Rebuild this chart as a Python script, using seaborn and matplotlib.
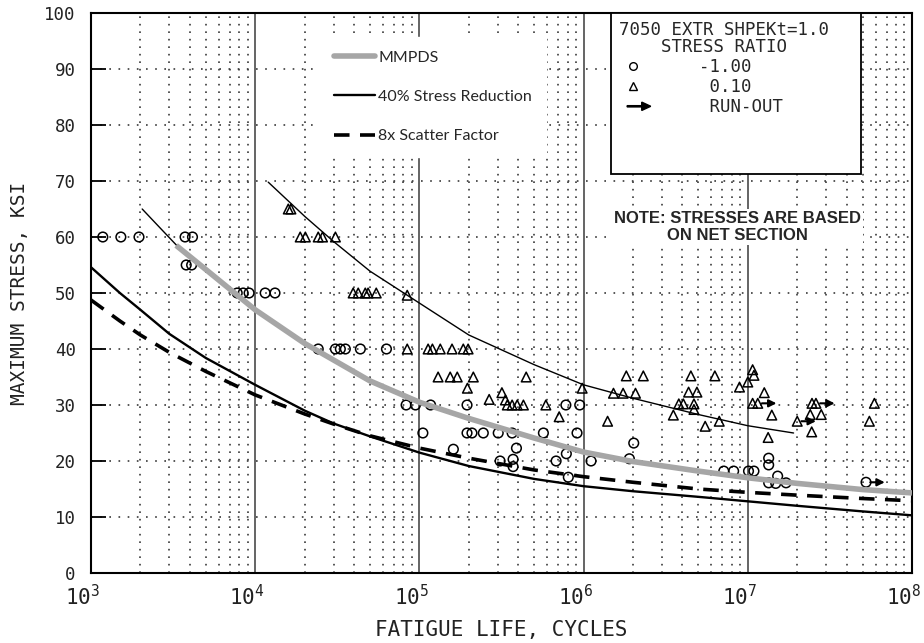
import numpy as np
import pandas as pd
import matplotlib
matplotlib.use("Agg")
import matplotlib.pyplot as plt
import seaborn as sns
from matplotlib.lines import Line2D
from matplotlib.patches import Rectangle, FancyArrow
from matplotlib.legend_handler import HandlerPatch
from matplotlib.ticker import FixedLocator, LogLocator, NullFormatter
from matplotlib.transforms import ScaledTranslation

# ---------------- data ----------------
# R = -1.00 test points (open circles)
circle_N = [1180, 1520, 1960, 3740, 4150,
            3800, 4100,
            7770, 8450, 9180, 11500, 13200,
            24200, 30800, 33000, 35400, 43700, 63000,
            83000, 94600, 117000, 195000, 780000, 947000,
            105000, 195000, 209000, 245000, 302000, 367000, 569000, 912000,
            161000, 390000,
            310000, 372000, 372000, 680000, 785000, 807000, 1.11e6,
            1.9e6, 2.02e6,
            7.14e6, 8.2e6, 1.01e7, 1.09e7,
            1.34e7, 1.34e7, 1.52e7, 1.34e7, 1.48e7, 1.71e7]
circle_S = [60, 60, 60, 60, 60,
            55, 55,
            50, 50, 50, 50, 50,
            40, 40, 40, 40, 40, 40,
            30, 30, 30, 30, 30, 30,
            25, 25, 25, 25, 25, 25, 25, 25,
            22.1, 22.3,
            20, 20.3, 19, 20, 21.3, 17.1, 20,
            20.4, 23.2,
            18.2, 18.2, 18.2, 18.2,
            20.5, 19.3, 17.3, 16.1, 16.0, 16.1]

# R = 0.10 test points (open triangles)
tri_N = [15900, 16500,
         18800, 20200, 24200, 25700, 30800,
         39500, 42400, 46800, 48700, 54600, 84300,
         84300, 113000, 120000, 134000, 158000, 185000, 198000,
         130000, 154000, 170000, 213000, 447000,
         196000, 266000, 318000, 334000,
         343000, 367000, 394000, 430000, 589000,
         710000, 980000,
         1.82e6, 2.31e6, 1.52e6, 1.74e6, 2.07e6, 1.4e6,
         3.52e6, 3.8e6, 4.05e6, 4.7e6, 4.7e6, 4.36e6, 4.9e6, 4.5e6, 6.3e6,
         5.5e6, 6.7e6, 8.9e6,
         1.07e7, 1.09e7, 1.0e7, 1.26e7, 1.07e7, 1.4e7, 1.33e7,
         2.45e7, 2.4e7, 2.8e7, 2.46e7, 5.9e7, 5.5e7]
tri_S = [65, 65,
         60, 60, 60, 60, 60,
         50, 50, 50, 50, 50, 49.6,
         40, 40, 40, 40, 40, 40, 40,
         35, 35, 35, 35, 35,
         33, 31, 32.2, 30.9,
         30, 30, 30, 30, 30,
         27.9, 33,
         35.2, 35.2, 32.1, 32.1, 32.1, 27.1,
         28.2, 30.2, 30.2, 30.2, 29.2, 32.3, 32.3, 35.2, 35.2,
         26.2, 27.1, 33.2,
         36.3, 35.3, 34.1, 32.2, 30.3, 28.2, 24.2,
         25.2, 28.3, 28.3, 30.3, 30.3, 27.1]

# run-out points (drawn with an arrow)
runout_circle_N = [5.25e7]
runout_circle_S = [16.2]
runout_tri_N = [1.15e7, 2.0e7, 2.6e7]
runout_tri_S = [30.3, 27.1, 30.3]

# curves
mmpds_N = [3.3e3, 5e3, 1e4, 2e4, 5e4, 1e5, 2e5, 5e5, 1e6, 2e6, 5e6, 1e7, 2e7, 5e7, 1e8]
mmpds_S = [58.5, 54.2, 47.0, 41.0, 34.3, 30.5, 27.6, 24.1, 21.6, 19.9, 18.2, 17.0, 16.0, 14.9, 14.3]

reduc_N = [1e3, 1.5e3, 2e3, 3e3, 5e3, 1e4, 2e4, 3e4, 5e4, 1e5, 2e5, 5e5, 1e6, 2e6, 5e6, 1e7, 2e7, 5e7, 1e8]
reduc_S = [54.6, 50.0, 47.0, 42.7, 38.4, 33.6, 29.0, 26.7, 24.4, 21.5, 19.1, 16.8, 15.5, 14.6, 13.6, 12.8, 12.0, 11.0, 10.3]

scatter_N = [1e3, 1.5e3, 2e3, 3e3, 5e3, 1e4, 2e4, 3e4, 5e4, 1e5, 2e5, 5e5, 1e6, 2e6, 5e6, 1e7, 2e7, 5e7, 1e8]
scatter_S = [48.75, 45.0, 42.5, 39.4, 36.0, 31.8, 28.4, 26.6, 24.5, 22.3, 20.5, 18.4, 17.2, 16.2, 15.0, 14.4, 13.9, 13.3, 12.9]

fitA_N = [2.05e3, 2.6e3, 3.4e3]            # R=-1 original fit (visible part)
fitA_S = [65.0, 61.8, 58.2]
fitB_N = [1.2e4, 2e4, 3e4, 5e4, 1e5, 2e5, 5e5, 1e6, 2e6, 5e6, 1e7, 1.9e7]   # R=0.1 fit
fitB_S = [69.8, 63.7, 59.2, 53.9, 48.2, 42.5, 37.2, 33.6, 31.2, 28.3, 26.3, 25.0]

x_ticks = [1e3, 1e4, 1e5, 1e6, 1e7, 1e8]
x_tick_labels = [r"$10^{3}$", r"$10^{4}$", r"$10^{5}$", r"$10^{6}$", r"$10^{7}$", r"$10^{8}$"]
y_ticks = [0, 10, 20, 30, 40, 50, 60, 70, 80, 90, 100]
y_tick_labels = ["0", "10", "20", "30", "40", "50", "60", "70", "80", "90", "100"]

# ---------------- style ----------------
sns.set_theme(style="white")
plt.rcParams["font.family"] = ["DejaVu Sans Mono"]
plt.rcParams["mathtext.fontset"] = "custom"
plt.rcParams["mathtext.rm"] = "DejaVu Sans Mono"
plt.rcParams["mathtext.it"] = "DejaVu Sans Mono"

fig = plt.figure(figsize=(9.24, 6.43), dpi=100)
ax = fig.add_axes([91 / 924, 1 - 573 / 643, (912 - 91) / 924, (573 - 13) / 643])
ax.set_xscale("log")
ax.set_xlim(1e3, 1e8)
ax.set_ylim(0, 100)

ax.xaxis.set_major_locator(FixedLocator(x_ticks))
ax.xaxis.set_minor_locator(LogLocator(base=10, subs=range(2, 10)))
ax.xaxis.set_minor_formatter(NullFormatter())
ax.set_xticklabels(x_tick_labels, fontsize=15, color="#222222")
ax.yaxis.set_major_locator(FixedLocator(y_ticks))
ax.set_yticklabels(y_tick_labels, fontsize=12.5, color="#222222")

ax.set_axisbelow(True)
ax.grid(which="major", axis="x", color="#3a3a3a", lw=1.1, ls="-")
ax.grid(which="minor", axis="x", color="#3a3a3a", lw=1.2, ls=(0, (1, 3.5)))
ax.grid(which="major", axis="y", color="#3a3a3a", lw=1.2, ls=(0, (1, 4.5)))
ax.tick_params(axis="x", which="both", length=0, pad=8, bottom=True)
ax.tick_params(axis="y", which="major", direction="in", length=11, width=1.3,
               pad=11, left=True, right=False, color="black")
for sp in ax.spines.values():
    sp.set_color("black")
    sp.set_linewidth(1.5)

for lbl in ax.get_xticklabels():
    lbl.set_transform(lbl.get_transform() + ScaledTranslation(-6 / 72, 0, fig.dpi_scale_trans))

# ---------------- curves ----------------
sns.lineplot(x=fitA_N, y=fitA_S, ax=ax, color="black", lw=1.0, zorder=2)
sns.lineplot(x=fitB_N, y=fitB_S, ax=ax, color="black", lw=1.0, zorder=2)

# ---------------- points ----------------
pts = pd.DataFrame({
    "cycles": circle_N + runout_circle_N + tri_N + runout_tri_N,
    "stress": circle_S + runout_circle_S + tri_S + runout_tri_S,
    "ratio": ["-1.00"] * (len(circle_N) + len(runout_circle_N))
             + ["0.10"] * (len(tri_N) + len(runout_tri_N)),
})
sns.scatterplot(data=pts, x="cycles", y="stress", style="ratio",
                markers={"-1.00": "o", "0.10": "^"}, s=48, color="black",
                facecolor="none", edgecolor="black", linewidth=1.1,
                legend=False, ax=ax, zorder=3)

for n, s in zip(runout_circle_N + runout_tri_N, runout_circle_S + runout_tri_S):
    ax.annotate("", xy=(n * 1.3, s), xytext=(n, s),
                arrowprops=dict(arrowstyle="-|>", color="black", lw=1.5,
                                shrinkA=3, shrinkB=0, mutation_scale=11),
                zorder=3)

sns.lineplot(x=reduc_N, y=reduc_S, ax=ax, color="black", lw=1.7, zorder=4)
sns.lineplot(x=scatter_N, y=scatter_S, ax=ax, color="black", lw=2.6, zorder=4,
             dashes=False, linestyle=(0, (4.3, 2.9)))
sns.lineplot(x=mmpds_N, y=mmpds_S, ax=ax, color="#a6a6a6", lw=4.0, zorder=4,
             solid_capstyle="butt")

ax.set_xlabel("FATIGUE LIFE, CYCLES", fontsize=15, va="center", color="#222222")
ax.xaxis.set_label_coords(0.5, (573 - 630) / 560)
ax.set_ylabel("MAXIMUM STRESS, KSI", fontsize=14, va="center", color="#222222")
ax.yaxis.set_label_coords((20 - 91) / 821, 0.5)

# ---------------- curve legend (top-left, white box) ----------------
h_curves = [Line2D([], [], color="#a6a6a6", lw=4.0),
            Line2D([], [], color="black", lw=1.7),
            Line2D([], [], color="black", lw=2.6, ls=(0, (4.3, 2.9)))]
leg1 = ax.legend(h_curves, ["MMPDS", "40% Stress Reduction", "8x Scatter Factor"],
                 loc="upper left", bbox_to_anchor=((320 - 91) / 821, (573 - 37) / 560),
                 borderaxespad=0, borderpad=0.85, handlelength=2.6, handletextpad=0.2,
                 labelspacing=1.57, frameon=True, fancybox=False, framealpha=1,
                 facecolor="white", edgecolor="white",
                 prop=dict(family="Lato", size=11.5))
leg1.set_zorder(6)
ax.add_artist(leg1)

# ---------------- data legend (top-right, framed box) ----------------
box = Rectangle(((611 - 91) / 821, (573 - 174) / 560), (861 - 611) / 821,
                1 - (573 - 174) / 560, transform=ax.transAxes,
                facecolor="white", edgecolor="black", lw=1.3, zorder=5)
ax.add_patch(box)


def make_arrow(legend, orig_handle, xdescent, ydescent, width, height, fontsize):
    return FancyArrow(width * 0.3, height / 2, width * 0.85, 0, width=0.9,
                      head_width=6.0, head_length=6.5,
                      length_includes_head=True, facecolor="black",
                      edgecolor="black")


runout_handle = FancyArrow(0, 0, 1, 0, facecolor="black", edgecolor="black")
h_pts = [Line2D([], [], ls="none", marker="o", ms=5.5, mfc="none", mec="black", mew=1.0),
         Line2D([], [], ls="none", marker="^", ms=5.5, mfc="none", mec="black", mew=1.0),
         runout_handle]
leg2 = ax.legend(h_pts, ["-1.00", " 0.10", " RUN-OUT"],
                 title="7050 EXTR SHPEKt=1.0\nSTRESS RATIO",
                 loc="upper left", bbox_to_anchor=((611 - 91) / 821, 1.0),
                 borderaxespad=0, borderpad=0.45, handlelength=1.6,
                 handletextpad=3.0, labelspacing=0.12, frameon=False,
                 alignment="left",
                 prop=dict(family="DejaVu Sans Mono", size=12.5),
                 title_fontproperties=dict(family="DejaVu Sans Mono", size=12.5),
                 handler_map={FancyArrow: HandlerPatch(patch_func=make_arrow)})
leg2.get_title().set_linespacing(0.95)
leg2.get_title().set_multialignment("center")
leg2.set_zorder(7)

# ---------------- note ----------------
ax.text((737 - 91) / 821, (573 - 227) / 560, "NOTE: STRESSES ARE BASED\nON NET SECTION",
        transform=ax.transAxes, ha="center", va="center", fontsize=12,
        fontweight="bold", family="Liberation Sans", linespacing=1.1,
        bbox=dict(facecolor="white", edgecolor="none", pad=2), zorder=5)

fig.savefig("out.png", dpi=100)
